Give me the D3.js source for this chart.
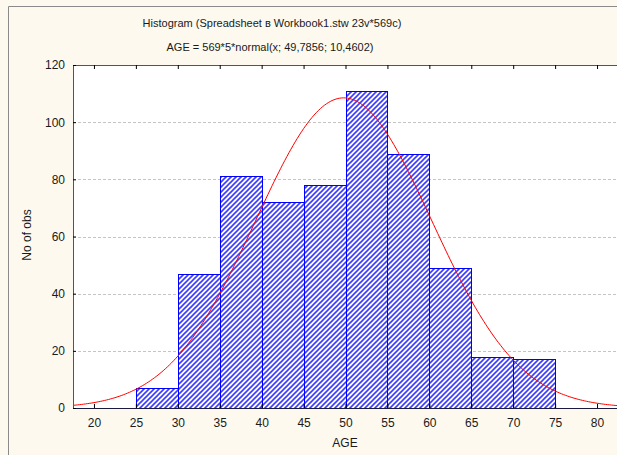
<html>
<head>
<meta charset="utf-8" />
<title>Histogram</title>
<script src="https://cdn.jsdelivr.net/npm/d3@7"></script>
<style>
body { margin: 0; background: #fff; }
text { font-family: "Liberation Sans", Arial, sans-serif; fill: #1a1a1a; }
</style>
</head>
<body>
<script>
// histogram counts, one bin per 5 years
var binStarts = [25, 30, 35, 40, 45, 50, 55, 60, 65, 70];
var counts = [7, 47, 81, 72, 78, 111, 89, 49, 18, 17];
var binWidth = 5;
// fitted curve parameters (from the subtitle)
var nObs = 569, mean = 49.7856, sd = 10.4602;
var xTicks = [20, 25, 30, 35, 40, 45, 50, 55, 60, 65, 70, 75, 80];
var yTicks = [0, 20, 40, 60, 80, 100, 120];
var title = "Histogram (Spreadsheet \u0432 Workbook1.stw 23v*569c)";
var subtitle = "AGE = 569*5*normal(x; 49,7856; 10,4602)";

var W = 617, H = 455;
var margin = {top: 65, right: 0, bottom: 47, left: 73};
var width = W - margin.left - margin.right,
    height = H - margin.top - margin.bottom;

var base = d3.select("body").append("svg")
  .attr("width", W).attr("height", H);

base.append("rect").attr("width", W).attr("height", H).attr("fill", "#fdf9ef");
// frame on left/top
base.append("path").attr("d", "M8.5," + H + "V6.5H" + W)
  .attr("fill", "none").attr("stroke", "#8a8a8a");

var defs = base.append("defs");
var pat = defs.append("pattern")
  .attr("id", "hatch").attr("patternUnits", "userSpaceOnUse")
  .attr("width", 5).attr("height", 5);
pat.append("rect").attr("width", 5).attr("height", 5).attr("fill", "#fff");
pat.append("path").attr("d", "M-1,1 l2,-2 M0,5 l5,-5 M4,6 l2,-2")
  .attr("stroke", "#3c3cff").attr("stroke-width", 1.6);

var svg = base.append("g").attr("transform", "translate(" + margin.left + "," + margin.top + ")");

var xScale = d3.scaleLinear().domain([17.5, 82.5]).range([0, width + 1]);
var yScale = d3.scaleLinear().domain([0, 120]).range([height, 0]);

svg.append("rect").attr("width", width).attr("height", height).attr("fill", "#fff");

// grid
svg.selectAll(".grid").data(yTicks.filter(d => d > 0 && d < 120)).enter()
  .append("line")
  .attr("x1", 0).attr("x2", width)
  .attr("y1", d => Math.round(yScale(d)) + 0.5).attr("y2", d => Math.round(yScale(d)) + 0.5)
  .attr("stroke", "#c4c4c4").attr("stroke-dasharray", "3,2");

// bars
svg.selectAll(".bar").data(binStarts).enter()
  .append("rect")
  .attr("x", d => Math.round(xScale(d)) + 0.5)
  .attr("y", (d, i) => Math.round(yScale(counts[i])) + 0.5)
  .attr("width", d => Math.round(xScale(d + binWidth)) - Math.round(xScale(d)))
  .attr("height", (d, i) => Math.round(yScale(0)) - Math.round(yScale(counts[i])))
  .attr("fill", "url(#hatch)")
  .attr("stroke", "#0000ff").attr("stroke-width", 1);

// normal curve
var curveX = d3.range(17.5, 82.6, 0.25);
var normal = function(x) {
  return nObs * binWidth * Math.exp(-0.5 * Math.pow((x - mean) / sd, 2)) / (sd * Math.sqrt(2 * Math.PI));
};
svg.append("path")
  .datum(curveX)
  .attr("fill", "none").attr("stroke", "#ff0000").attr("stroke-width", 1)
  .attr("d", d3.line().x(d => xScale(d)).y(d => yScale(normal(d))));

// axes
var xAxis = svg.append("g").attr("transform", "translate(0," + height + ")")
  .call(d3.axisBottom(xScale).tickValues(xTicks).tickSizeInner(-4).tickSizeOuter(0).tickPadding(10));
xAxis.select(".domain").attr("stroke", "#1a1a40");
xAxis.selectAll("text").attr("font-size", "12px");

var xTop = svg.append("g")
  .call(d3.axisTop(xScale).tickValues(xTicks).tickSizeInner(-4).tickSizeOuter(0).tickFormat(""));
xTop.select(".domain").attr("stroke", "#555");

var yAxis = svg.append("g")
  .call(d3.axisLeft(yScale).tickValues(yTicks).tickSizeInner(-3).tickSizeOuter(0).tickPadding(8));
yAxis.select(".domain").attr("stroke", "#555");
yAxis.selectAll("text").attr("font-size", "12px");

base.append("text").attr("x", 272).attr("y", 27).attr("text-anchor", "middle")
  .attr("font-size", "11px").text(title);
base.append("text").attr("x", 270).attr("y", 51).attr("text-anchor", "middle")
  .attr("font-size", "11px").text(subtitle);
base.append("text").attr("x", 345).attr("y", 447).attr("text-anchor", "middle")
  .attr("font-size", "12px").text("AGE");
base.append("text").attr("transform", "translate(31,235) rotate(-90)")
  .attr("text-anchor", "middle").attr("font-size", "12px").text("No of obs");
</script>
</body>
</html>
